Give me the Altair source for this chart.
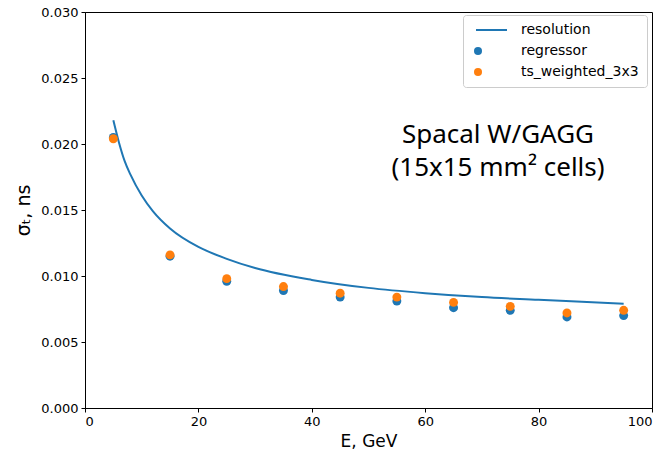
import altair as alt
import pandas as pd

# measured points
energy = [5, 15, 25, 35, 45, 55, 65, 75, 85, 95]
regressor = [0.0205, 0.0115, 0.0096, 0.0089, 0.0084, 0.0081, 0.0076, 0.0074, 0.0069, 0.0070]
ts_weighted = [0.0204, 0.0116, 0.0098, 0.0092, 0.0087, 0.0084, 0.0080, 0.0077, 0.0072, 0.0074]

# resolution curve
res_e = [5, 6, 7, 8, 10, 12, 15, 20, 25, 30, 40, 50, 60, 70, 80, 95]
res_sigma = [0.0218, 0.0201, 0.0187, 0.0177, 0.0161, 0.0149, 0.0136, 0.0122, 0.0113,
             0.0106, 0.0097, 0.0091, 0.0087, 0.0084, 0.0082, 0.0079]

series_names = ["resolution", "regressor", "ts_weighted_3x3"]
series_colors = ["#1f77b4", "#1f77b4", "#ff7f0e"]
# legend symbol for the line entry: thin filled bar; circles for the points
series_shapes = ["M-0.5,-0.25H7.25V0.25H-0.5Z", "circle", "circle"]

annotation_lines = ["Spacal W/GAGG", "(15x15 mm² cells)"]

line_df = pd.DataFrame({"E": res_e, "sigma": res_sigma, "series": "resolution"})
pts_df = pd.concat([
    pd.DataFrame({"E": energy, "sigma": regressor, "series": "regressor", "order": 0}),
    pd.DataFrame({"E": energy, "sigma": ts_weighted, "series": "ts_weighted_3x3", "order": 1}),
])

FONT = "DejaVu Sans"

color_scale = alt.Scale(domain=series_names, range=series_colors)
shape_scale = alt.Scale(domain=series_names, range=series_shapes)
legend = alt.Legend(
    title=None, orient="none", legendX=378, legendY=3,
    fillColor="white", strokeColor="#cccccc", cornerRadius=3, padding=8,
    labelFont=FONT, labelFontSize=14, labelColor="#000000", rowPadding=7,
    labelOffset=36, symbolSize=64, symbolOpacity=1, symbolStrokeWidth=0,
    values=series_names,
)

x_enc = alt.X("E:Q", scale=alt.Scale(domain=[0, 100], nice=False),
              axis=alt.Axis(values=[0, 20, 40, 60, 80, 100], title="E, GeV"))
y_enc = alt.Y("sigma:Q", scale=alt.Scale(domain=[0, 0.03], nice=False),
              axis=alt.Axis(values=[0, 0.005, 0.01, 0.015, 0.02, 0.025, 0.03],
                            format=".3f", title="σₜ, ns"))

line = alt.Chart(line_df).mark_line(strokeWidth=2, interpolate="monotone").encode(
    x=x_enc, y=y_enc,
    color=alt.Color("series:N", scale=color_scale, legend=legend),
)

points = alt.Chart(pts_df).mark_point(size=80, opacity=1, filled=True, strokeWidth=0).encode(
    x=x_enc, y=y_enc,
    color=alt.Color("series:N", scale=color_scale, legend=legend),
    shape=alt.Shape("series:N", scale=shape_scale, legend=legend),
    order=alt.Order("order:Q"),
)

def ann_text(txt, ypix):
    return alt.Chart(pd.DataFrame({"t": [txt]})).mark_text(
        font="Noto Sans", fontSize=26, color="#000000", align="center", baseline="middle"
    ).encode(text="t:N", x=alt.value(413), y=alt.value(ypix))

ann1 = ann_text(annotation_lines[0], 123)
ann2 = ann_text(annotation_lines[1], 156)

chart = alt.layer(line, points, ann1, ann2).properties(
    width=567, height=396,
    padding={"left": 85, "top": 12, "right": 14, "bottom": 46},
    autosize=alt.AutoSizeParams(type="none"),
    background="white",
).configure_view(
    stroke="#000000", strokeWidth=1
).configure_axis(
    grid=False, domainColor="#000000", tickColor="#000000", tickSize=4,
    labelFont=FONT, labelFontSize=13, labelColor="#000000",
    titleFont=FONT, titleFontSize=17, titleFontWeight="normal", titleColor="#000000",
    labelPadding=3,
).configure_axisX(titlePadding=5).configure_axisY(titlePadding=7, titleFontSize=19)

chart.save("out.html", embed_options={"renderer": "svg", "actions": False})
